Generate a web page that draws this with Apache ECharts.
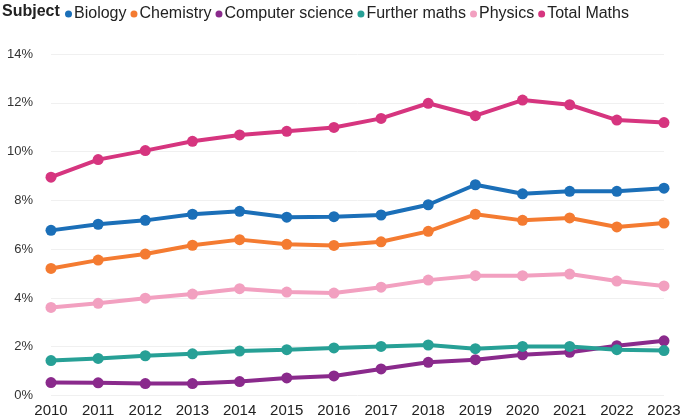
<!DOCTYPE html>
<html><head><meta charset="utf-8">
<script src="https://cdn.jsdelivr.net/npm/echarts@6/dist/echarts.min.js"></script>
<style>html,body{margin:0;padding:0;background:#fff}#c{width:684px;height:419px}</style>
</head><body><div id="c"></div>
<script>
const years = ['2010','2011','2012','2013','2014','2015','2016','2017','2018','2019','2020','2021','2022','2023'];
const biology = [6.77, 7.02, 7.18, 7.43, 7.55, 7.31, 7.33, 7.40, 7.82, 8.64, 8.27, 8.37, 8.37, 8.50];
const chemistry = [5.21, 5.55, 5.80, 6.16, 6.39, 6.20, 6.15, 6.30, 6.73, 7.43, 7.18, 7.28, 6.91, 7.07];
const computerScience = [0.53, 0.52, 0.49, 0.49, 0.57, 0.72, 0.80, 1.09, 1.36, 1.47, 1.67, 1.77, 2.04, 2.24];
const furtherMaths = [1.43, 1.52, 1.63, 1.71, 1.82, 1.88, 1.95, 2.01, 2.07, 1.92, 2.01, 2.01, 1.88, 1.84];
const physics = [3.61, 3.78, 3.99, 4.16, 4.38, 4.24, 4.20, 4.44, 4.73, 4.91, 4.91, 4.98, 4.69, 4.49];
const totalMaths = [8.95, 9.67, 10.04, 10.42, 10.68, 10.83, 10.99, 11.36, 11.98, 11.47, 12.11, 11.92, 11.29, 11.19];
const yTicks = [0, 2, 4, 6, 8, 10, 12, 14];

const seriesDefs = [
  ['Biology', biology, '#1b6fb8'],
  ['Chemistry', chemistry, '#f47b31'],
  ['Computer science', computerScience, '#8a2a8c'],
  ['Further maths', furtherMaths, '#27a096'],
  ['Physics', physics, '#f2a0c0'],
  ['Total Maths', totalMaths, '#d6357f']
];
const chart = echarts.init(document.getElementById('c'), null, {renderer:'canvas'});
chart.setOption({
  animation:false,
  textStyle:{fontFamily:'Liberation Sans, Arial, sans-serif'},
  title:{text:'Subject', left:2, top:4, padding:0, textStyle:{fontSize:16, fontWeight:'bold', color:'#222', fontFamily:'Liberation Sans, Arial, sans-serif'}},
  legend:{
    left:60, top:1, icon:'circle', itemWidth:7, itemHeight:7, itemGap:4,
    textStyle:{fontSize:16, color:'#222', padding:[0,0,0,-3]},
    data:seriesDefs.map(s=>s[0])
  },
  grid:{left:51, right:20, top:54, bottom:23.5, containLabel:false},
  xAxis:{
    type:'category', data:years, boundaryGap:false,
    axisLine:{show:false}, axisTick:{show:false},
    axisLabel:{fontSize:15, color:'#222', margin:8}
  },
  yAxis:{
    type:'value', min:yTicks[0], max:yTicks[yTicks.length-1], interval:2,
    axisLabel:{formatter:'{value}%', fontSize:13, color:'#333', margin:18},
    splitLine:{lineStyle:{color:'#f0f0f0', width:1}},
    axisLine:{show:false}, axisTick:{show:false}
  },
  series:seriesDefs.map(([name,data,color])=>({
    name, type:'line', data, color,
    symbol:'circle', symbolSize:11,
    lineStyle:{width:4, color},
    itemStyle:{color}
  }))
});
</script></body></html>
